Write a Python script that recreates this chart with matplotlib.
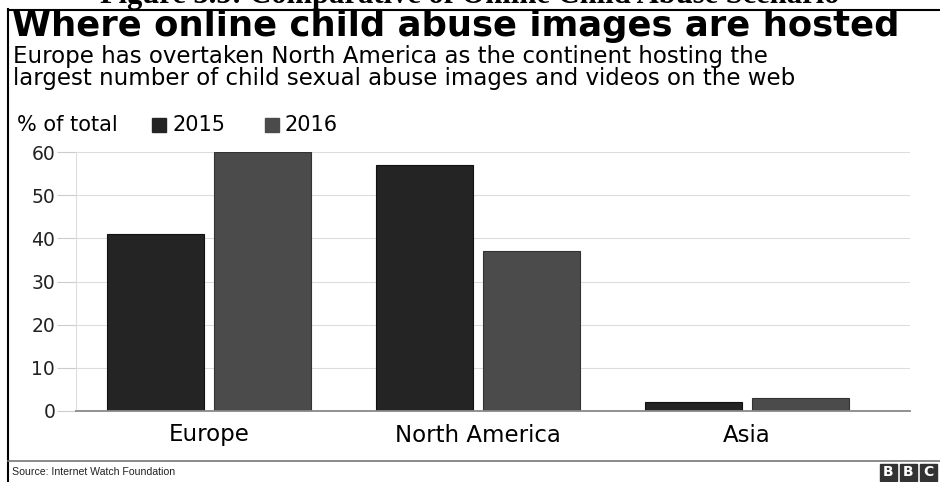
import matplotlib
matplotlib.use("Agg")
import matplotlib.pyplot as plt
from matplotlib.patches import Rectangle
from matplotlib.lines import Line2D
import numpy as np

categories = ["Europe", "North America", "Asia"]
series_names = ["2015", "2016"]
values_2015 = [41, 57, 2]
values_2016 = [60, 37, 3]
yticks = [0, 10, 20, 30, 40, 50, 60]

c2015 = "#242424"
c2016 = "#4b4b4b"
W, H = 940, 482

plt.rcParams['font.family'] = ['DejaVu Sans']
fig = plt.figure(figsize=(W/100, H/100), dpi=100)
fig.patch.set_facecolor("white")

def fx(px): return px / W
def fy(py): return 1 - py / H

# partially cropped caption at very top
fig.text(fx(470), fy(3), "Figure 3.5: Comparative of Online Child Abuse Scenario",
         family=["Liberation Serif"], fontweight="bold", fontsize=22,
         ha="center", va="baseline")

# frame
fig.add_artist(Line2D([fx(8), fx(8)], [fy(9), fy(482)], color="black", lw=1.5))
fig.add_artist(Line2D([fx(8), fx(940)], [fy(9.5), fy(9.5)], color="black", lw=1.5))
fig.add_artist(Line2D([fx(8), fx(940)], [fy(461), fy(461)], color="#777777", lw=1.2))

fig.text(fx(12), fy(26), "Where online child abuse images are hosted",
         fontsize=25.5, fontweight="bold", ha="left", va="center")
fig.text(fx(13), fy(57), "Europe has overtaken North America as the continent hosting the",
         fontsize=16.5, ha="left", va="center")
fig.text(fx(13), fy(79), "largest number of child sexual abuse images and videos on the web",
         fontsize=16.5, ha="left", va="center")

# legend row
fig.text(fx(17), fy(125), "% of total", fontsize=15, ha="left", va="center")
fig.add_artist(Rectangle((fx(152), fy(132)), fx(14), 14/H, color=c2015))
fig.text(fx(172), fy(125), series_names[0], fontsize=15, ha="left", va="center")
fig.add_artist(Rectangle((fx(265), fy(132)), fx(14), 14/H, color=c2016))
fig.text(fx(284), fy(125), series_names[1], fontsize=15, ha="left", va="center")

# axes: x 76..910 px, y 152..411 px
ax = fig.add_axes([fx(76), fy(411), fx(910-76), (411-152)/H])
x = np.arange(len(categories))
bw = 0.36
off = 0.199
ax.bar(x - off, values_2015, bw, color=c2015, edgecolor="#111111", lw=0.8, zorder=3)
ax.bar(x + off, values_2016, bw, color=c2016, edgecolor="#333333", lw=0.8, zorder=3)
ax.set_xlim(-0.494, 2.606)
ax.set_ylim(0, 60)
ax.set_yticks(yticks)
ax.set_yticklabels([str(t) for t in yticks], fontsize=13.5, color="#222222")
ax.tick_params(axis="y", length=14, color="#cccccc", pad=1, width=0.8)
ax.set_xticks(x)
ax.set_xticklabels(categories, fontsize=16.5)
ax.tick_params(axis="x", length=0, pad=9)
ax.grid(axis="y", color="#dddddd", lw=0.8, zorder=0)
for s in ["top", "right"]:
    ax.spines[s].set_visible(False)
ax.spines["left"].set_color("#dddddd")
ax.spines["left"].set_linewidth(0.8)
ax.spines["bottom"].set_color("#888888")
ax.spines["bottom"].set_linewidth(1.3)
ax.spines["bottom"].set_zorder(4)

fig.text(fx(12), fy(472), "Source: Internet Watch Foundation", fontsize=7.6,
         family=["Liberation Sans"], ha="left", va="center", color="#222222")

# BBC blocks
for i, letter in enumerate("BBC"):
    x0 = 880 + i * 20
    fig.add_artist(Rectangle((fx(x0), fy(481)), fx(17), 17/H, color="#333333"))
    fig.text(fx(x0 + 8.5), fy(472.5), letter, fontsize=10, fontweight="bold",
             color="white", ha="center", va="center")

fig.savefig("out.png", dpi=100, facecolor="white")
